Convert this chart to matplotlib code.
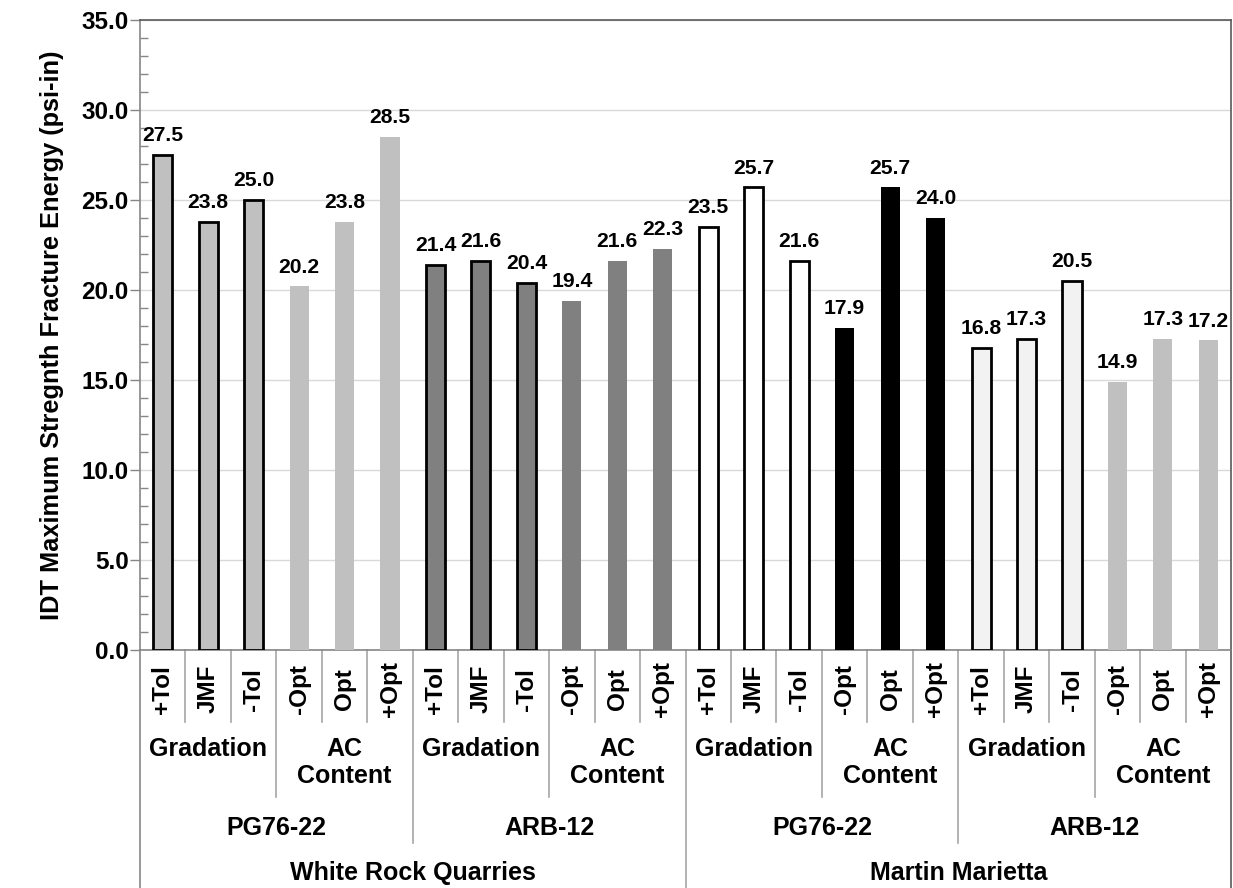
import matplotlib
matplotlib.use("Agg")
import matplotlib.pyplot as plt
from matplotlib.ticker import MultipleLocator, FormatStrFormatter
import matplotlib.transforms as mtransforms

plt.rcParams['font.family'] = ['Liberation Sans', 'DejaVu Sans']
plt.rcParams['font.weight'] = 'bold'

# ---- data ----
values = [27.5, 23.8, 25.0, 20.2, 23.8, 28.5,
          21.4, 21.6, 20.4, 19.4, 21.6, 22.3,
          23.5, 25.7, 21.6, 17.9, 25.7, 24.0,
          16.8, 17.3, 20.5, 14.9, 17.3, 17.2]
tick_labels = ['+Tol', 'JMF', '-Tol', '-Opt', 'Opt', '+Opt'] * 4
level2 = ['Gradation', 'AC\nContent'] * 4
level3 = ['PG76-22', 'ARB-12', 'PG76-22', 'ARB-12']
level4 = ['White Rock Quarries', 'Martin Marietta']
ylabel = 'IDT Maximum Stregnth Fracture Energy (psi-in)'

# styles per group of 3 bars (fill, has edge)
group_fill = ['#C0C0C0', '#C0C0C0', '#808080', '#808080',
              '#FFFFFF', '#000000', '#F2F2F2', '#C0C0C0']
group_edge = [True, False, True, False, True, False, True, False]

fig = plt.figure(figsize=(12.33, 8.88), dpi=100)
ax = fig.add_axes([0.1135, 0.268, 0.885, 0.7095])

n = len(values)
for i, v in enumerate(values):
    g = i // 3
    if group_edge[g]:
        ax.bar(i, v, width=0.42, color=group_fill[g], edgecolor='black', linewidth=2, zorder=3)
    else:
        ax.bar(i, v, width=0.42, color=group_fill[g], edgecolor='none', zorder=3)
    ax.annotate(f'{v:.1f}', (i, v), xytext=(0, 7), textcoords='offset points',
                ha='center', va='bottom', fontsize=15.2, fontweight='bold', zorder=4)

ax.set_xlim(-0.5, n - 0.5)
ax.set_ylim(0, 35)
ax.yaxis.set_major_locator(MultipleLocator(5))
ax.yaxis.set_minor_locator(MultipleLocator(1))
ax.yaxis.set_major_formatter(FormatStrFormatter('%.1f'))
ax.tick_params(axis='y', which='major', direction='out', length=7, width=1, color='#868686',
               labelsize=17.5, pad=1)
ax.tick_params(axis='y', which='minor', direction='in', length=6, width=1, color='#868686')
for lab in ax.get_yticklabels():
    lab.set_fontweight('bold')
ax.set_xticks([])
ax.grid(axis='y', which='major', color='#D9D9D9', linewidth=1, zorder=0)
ax.set_axisbelow(True)

for s in ['top', 'right']:
    ax.spines[s].set_color('#595959')
    ax.spines[s].set_linewidth(1.2)
for s in ['left', 'bottom']:
    ax.spines[s].set_color('#868686')
    ax.spines[s].set_linewidth(1.2)

ax.set_ylabel(ylabel, fontsize=18.3, fontweight='bold', labelpad=13)

# ---- hierarchical category axis ----
trans = mtransforms.blended_transform_factory(ax.transData, ax.transAxes)
lc = '#A6A6A6'
y_l1 = -0.114
y_l2 = -0.233
y_l3 = -0.306
y_l4 = -0.378

for b in range(n + 1):
    xb = b - 0.5
    if b == 0 or b == n:
        y_end = y_l4
        color = '#595959' if b == n else '#868686'
    elif b % 12 == 0:
        y_end = y_l4
        color = lc
    elif b % 6 == 0:
        y_end = y_l3
        color = lc
    elif b % 3 == 0:
        y_end = y_l2
        color = lc
    else:
        y_end = y_l1
        color = lc
    ax.plot([xb, xb], [0, y_end], transform=trans, color=color, linewidth=1.2,
            clip_on=False, zorder=1)

for i, t in enumerate(tick_labels):
    ax.text(i, -0.062, t, transform=trans, rotation=90, ha='center', va='center',
            fontsize=17.5, fontweight='bold')

for k, t in enumerate(level2):
    xc = k * 3 + 1
    ax.text(xc, -0.138, t, transform=trans, ha='center', va='top',
            fontsize=18, fontweight='bold', linespacing=1.15)

for k, t in enumerate(level3):
    xc = k * 6 + 2.5
    ax.text(xc, -0.283, t, transform=trans, ha='center', va='center',
            fontsize=18, fontweight='bold')

for k, t in enumerate(level4):
    xc = k * 12 + 5.5
    ax.text(xc, -0.354, t, transform=trans, ha='center', va='center',
            fontsize=18, fontweight='bold')

fig.savefig('out.png', dpi=100)
